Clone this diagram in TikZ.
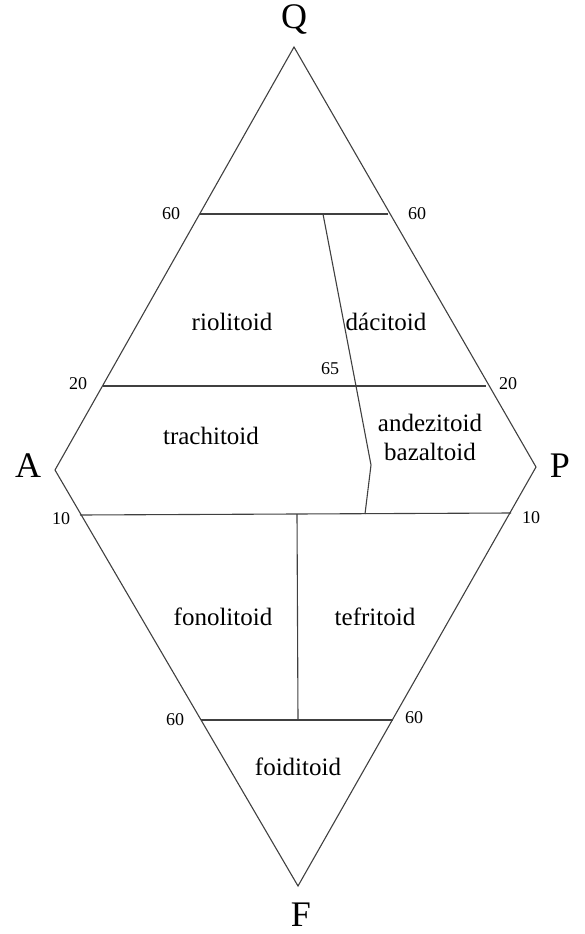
\documentclass[tikz,border=0pt]{standalone}
\usepackage{fontspec}
\setmainfont{Liberation Serif}
\begin{document}
\begin{tikzpicture}[x=1pt,y=-1pt,
  edge/.style={draw=black!75,line width=1.1pt},
  corner/.style={font=\fontsize{36}{38}\selectfont,inner sep=0pt},
  region/.style={font=\fontsize{25}{29}\selectfont,inner sep=0pt,align=center},
  tick/.style={font=\fontsize{18}{20}\selectfont,inner sep=0pt}]
\useasboundingbox (0,0) rectangle (584,934);
% vertices
\coordinate (q) at (294,47);
\coordinate (a) at (55,470);
\coordinate (p) at (536,467);
\coordinate (f) at (298,886);
\draw[edge,line join=miter] (q) -- (a) -- (f) -- (p) -- cycle;
% horizontal lines
\coordinate (t60l) at (200,214); \coordinate (t60r) at (388,214);
\coordinate (t20l) at (103,386); \coordinate (t20r) at (486,386);
\coordinate (m10l) at (80,515); \coordinate (m10r) at (511,513);
\coordinate (b60l) at (201,720); \coordinate (b60r) at (393,720);
\draw[edge] (t60l) -- (t60r);
\draw[edge] (t20l) -- (t20r);
\draw[edge] (m10l) -- (m10r);
\draw[edge] (b60l) -- (b60r);
% dividers
\coordinate (d1) at (323,214); \coordinate (d2) at (356,386);
\coordinate (d3) at (371,465); \coordinate (d4) at (365,514);
\draw[edge,line join=miter] (d1) -- (d2) -- (d3) -- (d4);
\coordinate (v1) at (297,514); \coordinate (v2) at (298,720);
\draw[edge] (v1) -- (v2);
% corner labels
\node[corner] (lq) at (294,20) {Q};
\node[corner] (la) at (28,466) {A};
\node[corner] (lp) at (560,466) {P};
\node[corner] (lf) at (301,915) {F};
% region labels
\node[region] (r1) at (232,322) {riolitoid};
\node[region] (r2) at (386,322) {dácitoid};
\node[region] (r3) at (211,436) {trachitoid};
\node[region] (r4) at (430,437) {andezitoid\\bazaltoid};
\node[region] (r5) at (223,617) {fonolitoid};
\node[region] (r6) at (375,617) {tefritoid};
\node[region] (r7) at (298,767) {foiditoid};
% ticks
\node[tick] (n1) at (171,214) {60};
\node[tick] (n2) at (417,214) {60};
\node[tick] (n3) at (78,384) {20};
\node[tick] (n4) at (508,384) {20};
\node[tick] (n5) at (61,519) {10};
\node[tick] (n6) at (531,518) {10};
\node[tick] (n7) at (175,720) {60};
\node[tick] (n8) at (414,718) {60};
\node[tick] (n9) at (330,369) {65};
\end{tikzpicture}
\end{document}
